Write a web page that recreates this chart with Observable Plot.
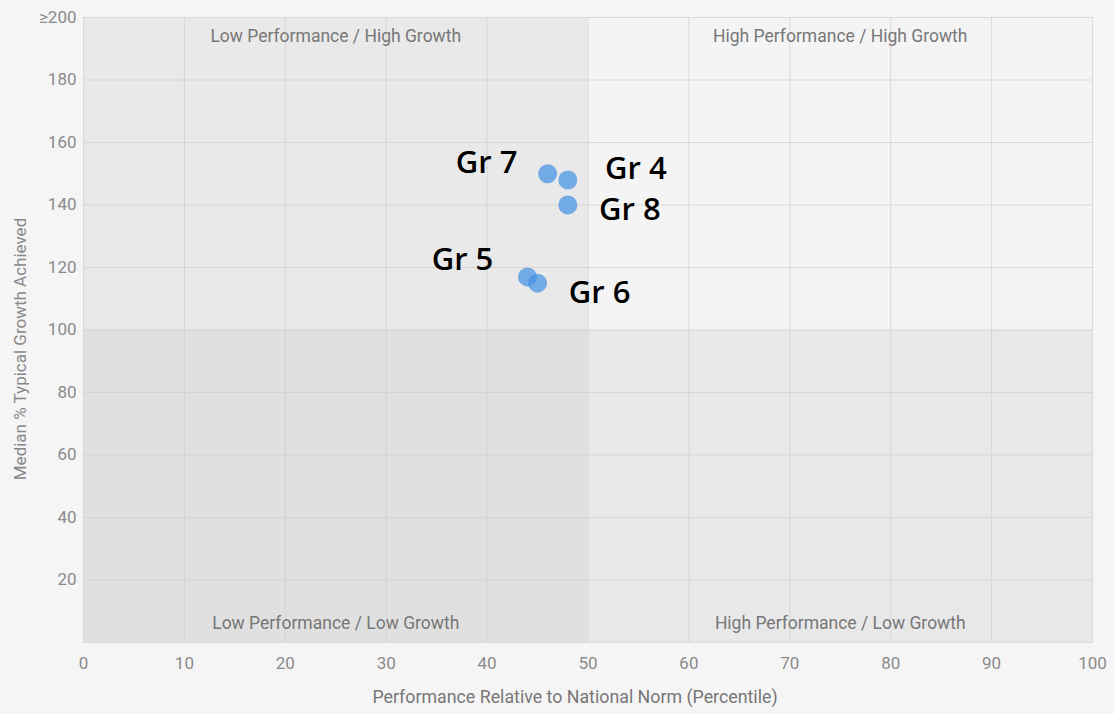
<!DOCTYPE html>
<html><head><meta charset="utf-8">
<script src="https://cdn.jsdelivr.net/npm/d3@7"></script>
<script src="https://cdn.jsdelivr.net/npm/@observablehq/plot@0.6"></script>
<style>
body{margin:0;background:#f6f5f6;}
svg{display:block;}
</style></head>
<body><div id="chart"></div>
<script>
const grades = ["Gr 7", "Gr 4", "Gr 8", "Gr 5", "Gr 6"];
const percentile = [46, 48, 48, 44, 45];
const growth = [150, 148, 140, 117, 115];
const xTicks = [0,10,20,30,40,50,60,70,80,90,100];
const yTicks = [20,40,60,80,100,120,140,160,180,200];
const yTickLabels = ["20","40","60","80","100","120","140","160","180","≥200"];
const quadrantNames = ["Low Performance / High Growth","High Performance / High Growth","Low Performance / Low Growth","High Performance / Low Growth"];
const normSplit = 50, growthSplit = 100;

const points = grades.map((g,i)=>({grade:g, x:percentile[i], y:growth[i]}));
const quads = [
  {name:quadrantNames[0], x1:0, x2:normSplit, y1:growthSplit, y2:200, fill:"#e9e9e9", top:true},
  {name:quadrantNames[1], x1:normSplit, x2:100, y1:growthSplit, y2:200, fill:"#f5f4f5", top:true},
  {name:quadrantNames[2], x1:0, x2:normSplit, y1:0, y2:growthSplit, fill:"#e0e0e0", top:false},
  {name:quadrantNames[3], x1:normSplit, x2:100, y1:0, y2:growthSplit, fill:"#e8e8e8", top:false}
];
const labelOffsets = {"Gr 7":[-61,-11],"Gr 4":[68,-11],"Gr 8":[62,5],"Gr 5":[-65,-17],"Gr 6":[62,10]};

const plot = Plot.plot({
  width:1114, height:714,
  marginLeft:83, marginRight:22, marginTop:17, marginBottom:72,
  style:{background:"#f6f5f6", fontFamily:"Roboto, sans-serif", fontSize:"17px", color:"#888"},
  x:{domain:[0,100], ticks:xTicks, label:null, tickSize:0, tickPadding:14},
  y:{domain:[0,200], ticks:yTicks, label:null, tickSize:0, tickPadding:10, tickFormat:d=>yTickLabels[yTicks.indexOf(d)]},
  marks:[
    Plot.rect(quads,{x1:"x1",x2:"x2",y1:"y1",y2:"y2",fill:"fill"}),
    Plot.gridX(xTicks,{stroke:"#cfcfcf", strokeOpacity:0.7}),
    Plot.gridY([0,...yTicks],{stroke:"#cfcfcf", strokeOpacity:0.7}),
    Plot.axisX({ticks:xTicks, tickSize:0, tickPadding:14, fill:"#8a8a8a", fontSize:17, label:null}),
    Plot.axisY({ticks:yTicks, tickSize:0, tickPadding:7, fill:"#8a8a8a", fontSize:17, label:null, tickFormat:d=>yTickLabels[yTicks.indexOf(d)]}),
    Plot.text(quads.filter(q=>q.top),{x:d=>(d.x1+d.x2)/2, y:d=>d.y2, text:"name", dy:19, fill:"#777", fontSize:17.5}),
    Plot.text(quads.filter(q=>!q.top),{x:d=>(d.x1+d.x2)/2, y:d=>d.y1, text:"name", dy:-19, fill:"#777", fontSize:17.5}),
    Plot.dot(points,{x:"x", y:"y", r:9.5, fill:"#4a94e4", fillOpacity:0.75, stroke:"none"}),
    ...grades.map(g=>Plot.text(points.filter(p=>p.grade===g),{x:"x", y:"y", text:"grade", dx:labelOffsets[g][0], dy:labelOffsets[g][1], fill:"#000", fontSize:31, fontWeight:600, fontFamily:"'Open Sans', sans-serif"})),
    Plot.text(["Performance Relative to National Norm (Percentile)"],{frameAnchor:"bottom", dx:-13, dy:60, fill:"#777", fontSize:17.8}),
    Plot.text(["Median % Typical Growth Achieved"],{frameAnchor:"left", textAnchor:"middle", dx:-63, dy:19, rotate:-90, fill:"#888", fontSize:17})
  ]
});
document.getElementById("chart").appendChild(plot);
</script>
</body></html>
